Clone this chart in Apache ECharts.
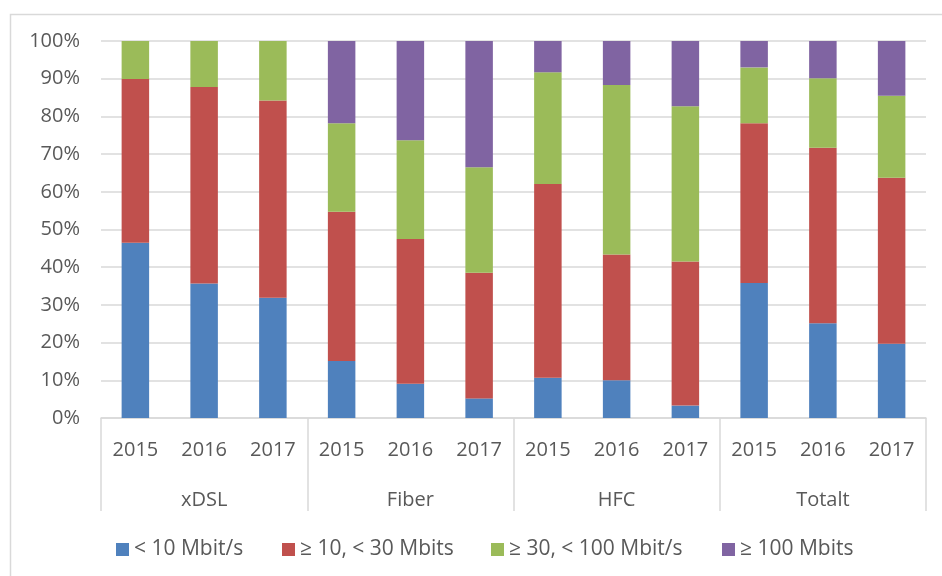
<!DOCTYPE html>
<html>
<head>
<meta charset="utf-8">
<script src="https://cdn.jsdelivr.net/npm/echarts@6/dist/echarts.min.js"></script>
<style>html,body{margin:0;padding:0;background:#fff}#c{width:942px;height:576px}</style>
</head>
<body>
<div id="c"></div>
<script>
const years = ['2015','2016','2017','2015','2016','2017','2015','2016','2017','2015','2016','2017'];
const groups = ['xDSL','Fiber','HFC','Totalt'];
const seriesNames = ['< 10 Mbit/s','≥ 10, < 30 Mbits','≥ 30, < 100 Mbit/s','≥ 100 Mbits'];
const below10 = [46.5,35.7,31.9,15.1,9.1,5.2,10.7,10.0,3.3,35.8,25.1,19.7];
const from10to30 = [43.4,52.1,52.3,39.6,38.4,33.3,51.4,33.4,38.2,42.4,46.6,44.0];
const from30to100 = [10.1,12.2,15.8,23.5,26.2,28.0,29.6,44.9,41.2,14.8,18.4,21.8];
const above100 = [0,0,0,21.8,26.3,33.5,8.3,11.7,17.3,7.0,9.9,14.5];
const yTicks = [0,10,20,30,40,50,60,70,80,90,100];

const colors = ['#4F81BD','#C0504D','#9BBB59','#8064A2'];
const font = '"Open Sans", "Noto Sans", sans-serif';
const txt = '#595959';
const line = '#d9d9d9';
const values = [below10, from10to30, from30to100, above100];
const legendLefts = [116, 282, 491, 722];

const chart = echarts.init(document.getElementById('c'));
chart.setOption({
  animation: false,
  color: colors,
  graphic: [{
    type: 'rect', left: 8, top: 12, silent: true,
    shape: {width: 1000, height: 600},
    style: {fill: 'none', stroke: line, lineWidth: 1.5}
  }],
  grid: {left: 101, right: 16, top: 41, bottom: 158, containLabel: false},
  legend: seriesNames.map((n, i) => ({
    data: [n], left: legendLefts[i], top: 539, padding: 0,
    itemWidth: 13, itemHeight: 13, icon: 'rect',
    textStyle: {fontFamily: font, fontSize: 21, color: txt}
  })),
  xAxis: [{
    type: 'category', data: years, position: 'bottom',
    axisLine: {show: true, lineStyle: {color: line, width: 1.5}},
    axisTick: {show: false},
    axisLabel: {interval: 0, margin: 22, fontFamily: font, fontSize: 20, color: txt}
  }, {
    type: 'category', data: groups, position: 'bottom',
    axisLine: {show: false},
    axisTick: {show: true, length: 93, interval: 0, lineStyle: {color: line, width: 1.5}},
    axisLabel: {interval: 0, margin: 72, fontFamily: font, fontSize: 20, color: txt}
  }],
  yAxis: {
    type: 'value', min: yTicks[0], max: yTicks[yTicks.length - 1], interval: 10,
    axisLine: {show: false}, axisTick: {show: false},
    splitLine: {lineStyle: {color: line, width: 1.5}},
    axisLabel: {margin: 21, formatter: '{value}%', fontFamily: font, fontSize: 20, color: txt}
  },
  series: seriesNames.map((n, i) => ({
    name: n, type: 'bar', stack: 'total', xAxisIndex: 0,
    barWidth: '40%', data: values[i],
    itemStyle: {color: colors[i]}
  }))
});
</script>
</body>
</html>
